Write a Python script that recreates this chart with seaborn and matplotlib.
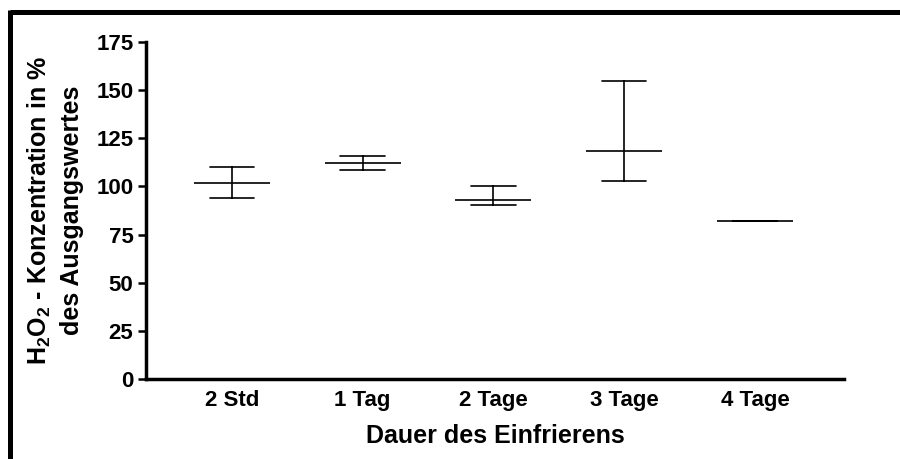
import matplotlib
matplotlib.use("Agg")
import matplotlib.pyplot as plt
import seaborn as sns
import pandas as pd
import numpy as np
from matplotlib.lines import Line2D

categories = ["2 Std", "1 Tag", "2 Tage", "3 Tage", "4 Tage"]
lower = [94.0, 108.7, 90.2, 102.8, 81.8]
center = [101.9, 112.1, 92.9, 118.4, 82.0]
upper = [110.1, 115.9, 100.2, 154.6, 82.2]
yticks = [0, 25, 50, 75, 100, 125, 150, 175]

sns.set_theme(style="white")
plt.rcParams["font.family"] = ["Liberation Sans", "DejaVu Sans"]
plt.rcParams["mathtext.fontset"] = "custom"
plt.rcParams["mathtext.rm"] = "Liberation Sans:bold"
plt.rcParams["mathtext.it"] = "Liberation Sans:bold"
plt.rcParams["mathtext.bf"] = "Liberation Sans:bold"
plt.rcParams["text.color"] = "black"
plt.rcParams["axes.labelcolor"] = "black"
plt.rcParams["xtick.color"] = "black"
plt.rcParams["ytick.color"] = "black"

rows = []
for c, lo, ce, hi in zip(categories, lower, center, upper):
    for v in (lo, ce, hi):
        rows.append({"Dauer": c, "Wert": v})
df = pd.DataFrame(rows)

fig = plt.figure(figsize=(9, 4.59), dpi=100)
ax = fig.add_axes([0.1622, 0.1743, 0.7756, 0.7342])

sns.pointplot(data=df, x="Dauer", y="Wert", order=categories,
              estimator="median", errorbar=("pi", 100),
              color="black", linestyle="none", markers="_",
              markersize=55, markeredgewidth=1.2,
              capsize=0.34, err_kws={"linewidth": 1.2}, ax=ax)

ax.set_xlim(-0.656, 4.68)
ax.set_ylim(0, 175)
ax.set_yticks(yticks)
ax.set_yticklabels([str(t) for t in yticks], fontsize=16, fontweight="bold", color="black")
for lab in ax.get_xticklabels():
    lab.set_fontsize(16)
    lab.set_fontweight("bold")
    lab.set_color("black")
ax.tick_params(axis="y", which="both", left=True, length=6, width=1.8, pad=3,
               colors="black", labelcolor="black")
ax.tick_params(axis="x", length=0, pad=8, colors="black", labelcolor="black")

for s in ["top", "right"]:
    ax.spines[s].set_visible(False)
for s in ["left", "bottom"]:
    ax.spines[s].set_linewidth(2.5)
    ax.spines[s].set_color("black")

ax.set_xlabel("Dauer des Einfrierens", fontsize=18, fontweight="bold", labelpad=9, color="black")
ax.set_ylabel("H$_2$O$_2$ - Konzentration in %\ndes Ausgangswertes",
              fontsize=18, fontweight="bold", labelpad=9, linespacing=1.35, color="black")

# outer frame (top and left edges)
fig.add_artist(Line2D([0.0108, 1.0], [0.9728, 0.9728], transform=fig.transFigure,
                      color="black", linewidth=3.6, solid_capstyle="butt"))
fig.add_artist(Line2D([0.0108, 0.0108], [0.0, 0.9728 + 0.0054], transform=fig.transFigure,
                      color="black", linewidth=3.6, solid_capstyle="butt"))

fig.savefig("out.png", dpi=100, facecolor="white")
